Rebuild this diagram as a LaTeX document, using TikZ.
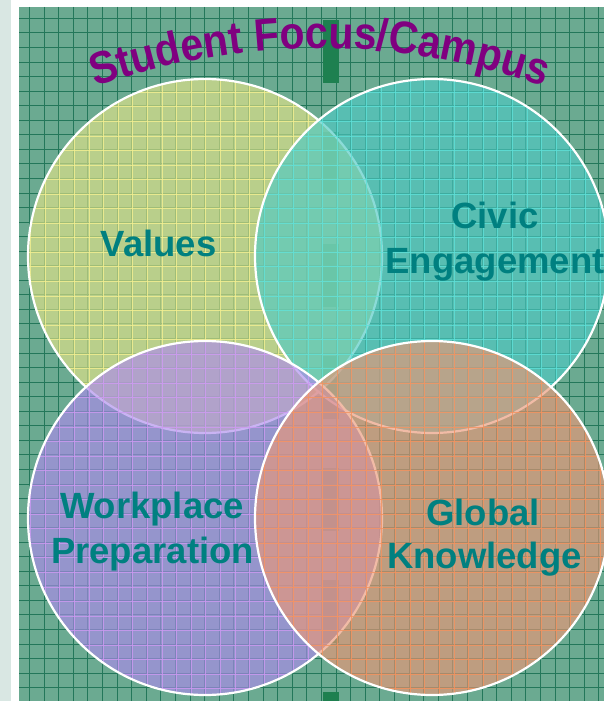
\documentclass[tikz,border=0pt]{standalone}
\usepackage{fontspec}
\setmainfont{Liberation Sans}
\newfontfamily\titlefont{Liberation Sans Bold}[FakeStretch=0.9]
\usetikzlibrary{decorations.text}
\definecolor{stripgray}{HTML}{D9E7E3}
\definecolor{bggreen}{HTML}{6BAA91}
\definecolor{gridgreen}{HTML}{23775A}
\definecolor{bargreen}{HTML}{1E8050}
\definecolor{valfill}{HTML}{E3E489}
\definecolor{civfill}{HTML}{4EC9C4}
\definecolor{wrkfill}{HTML}{AD8BED}
\definecolor{glbfill}{HTML}{EB9777}
\definecolor{valgrid}{HTML}{F4F090}
\definecolor{civgrid}{HTML}{5EE0D8}
\definecolor{wrkgrid}{HTML}{CC99F2}
\definecolor{glbgrid}{HTML}{F4925E}
\definecolor{labelteal}{HTML}{008080}
\definecolor{titlepurple}{HTML}{800080}
\tikzset{
  gridline/.style={draw=gridgreen, line width=0.8pt},
  lightgrid/.style={line width=0.8pt, draw opacity=0.8},
  ring/.style={draw=white, line width=2.2pt},
  lbltext/.style={text=labelteal, font=\bfseries\fontsize{36.5}{36.5}\selectfont, inner sep=0pt, anchor=base},
}
\newcommand{\lightlines}[1]{%
  \foreach \i in {0,...,40} \draw[lightgrid, draw=#1] ({30.5+14.6*\i},7) -- ({30.5+14.6*\i},701);
  \foreach \j in {-1,...,47} \draw[lightgrid, draw=#1] (19,{19.5+14.55*\j}) -- (604,{19.5+14.55*\j});
}
\begin{document}
\begin{tikzpicture}[x=1pt,y=-1pt]
\useasboundingbox (0,0) rectangle (604,701);
\fill[stripgray] (0,0) rectangle (11,701);
\fill[white] (11,0) rectangle (604,7);
\fill[white] (11,0) rectangle (19,701);
\fill[bggreen] (19,7) rectangle (604,701);
\begin{scope}
  \clip (19,7) rectangle (604,701);
  \foreach \i in {0,...,40} \draw[gridline] ({29.3+14.6*\i},7) -- ({29.3+14.6*\i},701);
  \foreach \j in {-1,...,47} \draw[gridline] (19,{18.3+14.55*\j}) -- (604,{18.3+14.55*\j});
  \foreach \k in {0,...,6} \fill[bargreen] (323,{20+112*\k}) rectangle (339,{83+112*\k});
  % Values
  \fill[valfill, fill opacity=0.65] (205,256) circle[radius=177];
  \begin{scope}\clip (205,256) circle[radius=177]; \lightlines{valgrid}\end{scope}
  \draw[ring] (205,256) circle[radius=177];
  % Civic
  \fill[civfill, fill opacity=0.65] (432,256) circle[radius=177];
  \begin{scope}\clip (432,256) circle[radius=177]; \lightlines{civgrid}\end{scope}
  \draw[ring] (432,256) circle[radius=177];
  % Workplace
  \fill[wrkfill, fill opacity=0.65] (205,518) circle[radius=177];
  \begin{scope}\clip (205,518) circle[radius=177]; \lightlines{wrkgrid}\end{scope}
  \draw[ring] (205,518) circle[radius=177];
  % Global
  \fill[glbfill, fill opacity=0.65] (432,518) circle[radius=177];
  \begin{scope}\clip (432,518) circle[radius=177]; \lightlines{glbgrid}\end{scope}
  \draw[ring] (432,518) circle[radius=177];
\end{scope}
% title
\path[decorate, decoration={text along path,
   text={|\titlefont\fontsize{45.5}{45.5}\selectfont|Student Focus/Campus},
   text align=center, text color=titlepurple}]
   (92,88) .. controls (242,35) and (398,35) .. (548,88);
% labels
\node[lbltext] (values) at (158.5,256) {Values};
\node[lbltext] (civic1) at (495,228) {Civic};
\node[lbltext] (civic2) at (495,273) {Engagement};
\node[lbltext] (work1) at (152,518) {Workplace};
\node[lbltext] (work2) at (152.5,563) {Preparation};
\node[lbltext] (glob1) at (483,525) {Global};
\node[lbltext] (glob2) at (484.5,568) {Knowledge};
\end{tikzpicture}
\end{document}
